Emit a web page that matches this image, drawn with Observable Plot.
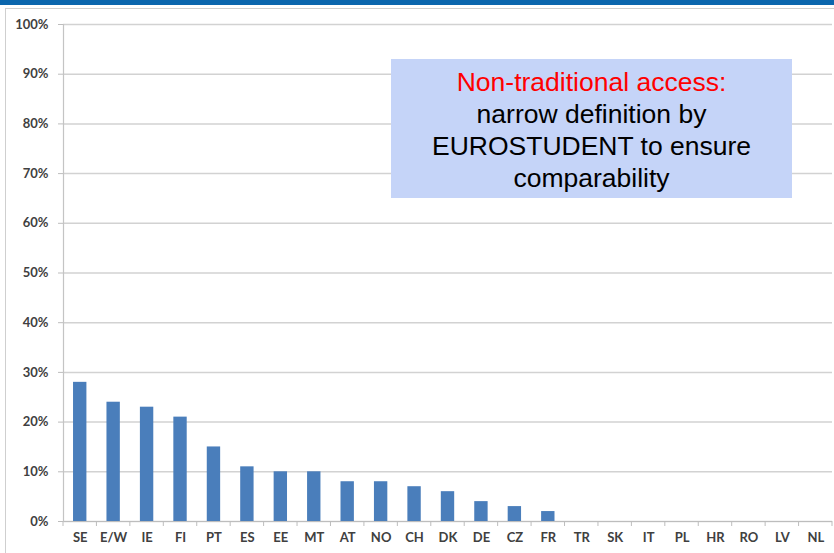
<!DOCTYPE html>
<html><head><meta charset="utf-8">
<script src="https://cdn.jsdelivr.net/npm/d3@7"></script>
<script src="https://cdn.jsdelivr.net/npm/@observablehq/plot@0.6"></script>
<style>
body{margin:0;background:#fff;}
#wrap{position:relative;width:834px;height:553px;overflow:hidden;background:#fff;}
#topbar{position:absolute;left:0;top:0;width:834px;height:5px;background:#0b66ad;}
#frame{position:absolute;left:5px;top:8px;width:840px;height:560px;border-left:1.5px solid #cfcfcf;border-top:1.5px solid #cfcfcf;}
#box{position:absolute;left:391px;top:59px;width:401px;height:139px;background:#c5d4f8;font-family:"Liberation Sans",Arial,sans-serif;font-size:26.5px;line-height:32px;text-align:center;color:#000;padding-top:7px;box-sizing:border-box;}
#box .r{color:#f00;}
svg{position:absolute;left:0;top:0;overflow:hidden;}
</style></head>
<body><div id="wrap"><div id="topbar"></div><div id="frame"></div><div id="chart"></div>
<div id="box"><span class="r">Non-traditional access:</span><br>narrow definition by<br>EUROSTUDENT to ensure<br>comparability</div></div>
<script>
const countries = ["SE","E/W","IE","FI","PT","ES","EE","MT","AT","NO","CH","DK","DE","CZ","FR","TR","SK","IT","PL","HR","RO","LV","NL"];
const shares = [0.28,0.24,0.23,0.21,0.15,0.11,0.10,0.10,0.08,0.08,0.07,0.06,0.04,0.03,0.02,0,0,0,0,0,0,0,0];
const yTicks = [0,0.1,0.2,0.3,0.4,0.5,0.6,0.7,0.8,0.9,1.0];
const data = countries.map((c,i)=>({country:c, share:shares[i]}));

const plot = Plot.plot({
  width: 834, height: 553,
  marginLeft: 63, marginRight: 2, marginTop: 24, marginBottom: 32,
  style: {fontFamily: "Lato, 'Open Sans', sans-serif", fontSize: "13px", fontWeight: "bold", color: "#404040", background: "transparent"},
  x: {domain: countries, paddingInner: 0.6, paddingOuter: 0.3, round: false, label: null},
  y: {domain: [0,1], label: null},
  marks: [
    Plot.ruleY(yTicks, {stroke: "#d2d2d2", strokeWidth: 1.5}),
    Plot.axisY({ticks: yTicks, tickFormat: d3.format(".0%"), tickSize: 5, tickPadding: 10, stroke: "#bdbdbd", fill: "#404040"}),
    Plot.axisX({tickSize: 0, tickPadding: 11, fill: "#404040"}),
    Plot.barY(data, {x: "country", y: "share", fill: "#4a7ebb"}),
    Plot.ruleY([0], {stroke: "#bdbdbd", strokeWidth: 1.2}),
    Plot.frame({anchor: "left", stroke: "#c4c4c4", strokeWidth: 1.2})
  ]
});
document.getElementById("chart").appendChild(plot);

// tick marks at category boundaries
const xs = plot.scale("x");
const ys = plot.scale("y");
const y0 = ys.apply(0);
const off = (xs.step - xs.bandwidth)/2;
const bounds = countries.map(c => xs.apply(c) - off);
bounds.push(xs.apply(countries[countries.length-1]) + xs.bandwidth + off);
d3.select(plot).append("g").selectAll("line").data(bounds).join("line")
  .attr("x1", d=>d).attr("x2", d=>d).attr("y1", y0).attr("y2", y0+5)
  .attr("stroke", "#bdbdbd").attr("stroke-width", 1);
</script></body></html>
